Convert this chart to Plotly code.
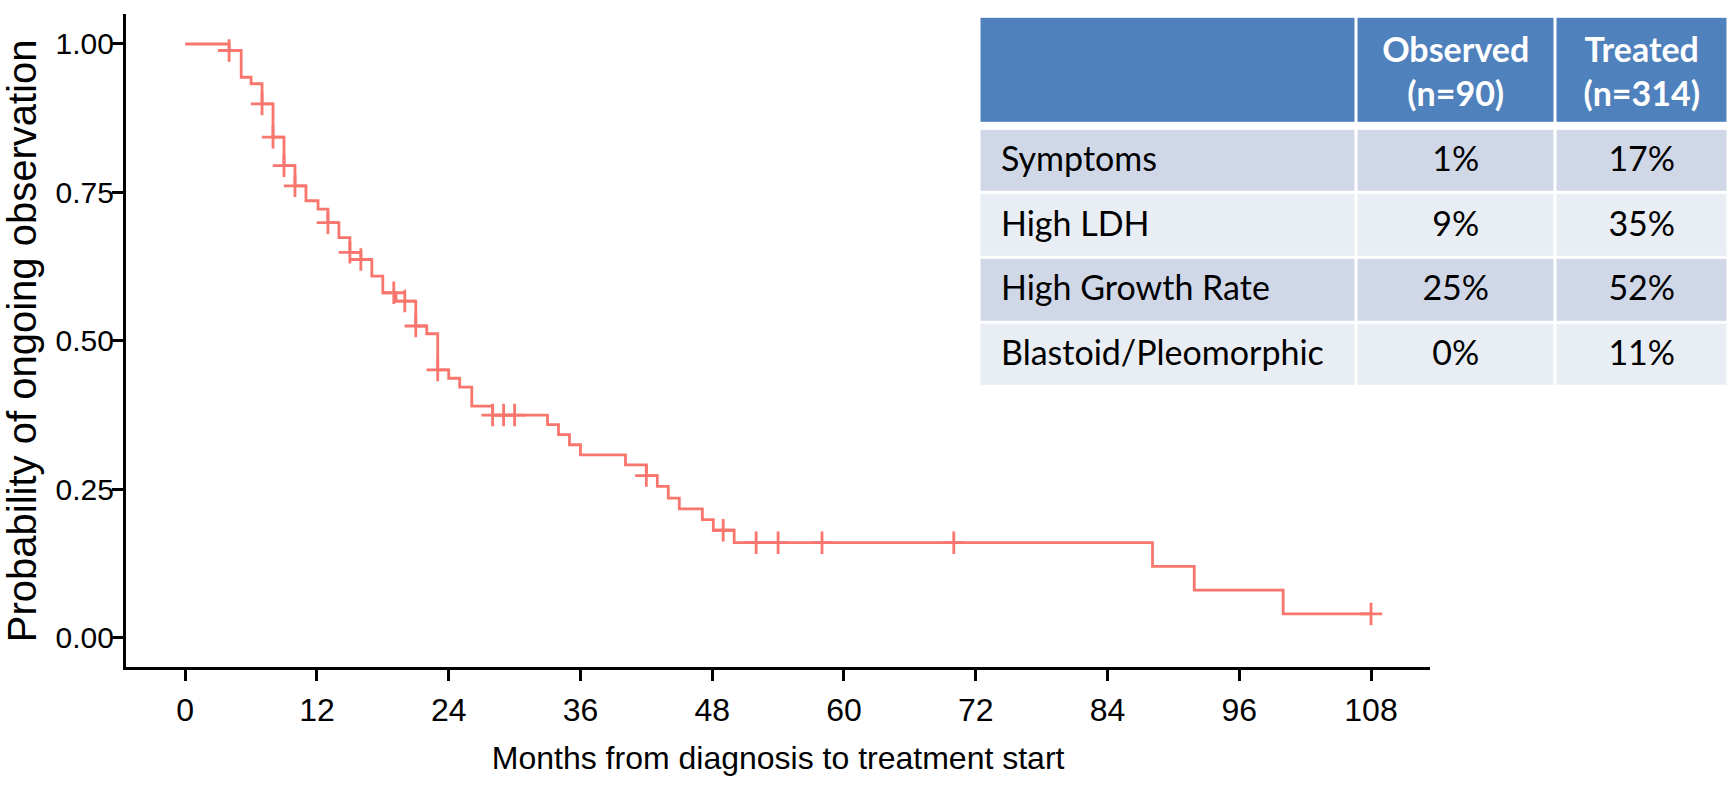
import plotly.graph_objects as go

# ---------------- data ----------------
# Kaplan-Meier step points (months, probability after the step)
step_months = [0, 4.0, 5.1, 6.0, 7.0, 8.0, 9.0, 10.0, 11.0, 12.1, 13.0, 14.0, 15.0, 16.0,
               17.0, 18.0, 19.2, 21.0, 22.0, 23.0, 24.0, 25.0, 26.1, 28.0, 33.0, 34.0,
               35.0, 36.0, 40.1, 42.0, 43.0, 44.0, 45.0, 47.1, 48.1, 50.0, 88.1, 91.9,
               100.0, 108.0]
step_prob = [1.000, 0.989, 0.944, 0.933, 0.899, 0.843, 0.795, 0.761, 0.736, 0.722, 0.699,
             0.674, 0.649, 0.637, 0.609, 0.581, 0.567, 0.525, 0.512, 0.451, 0.437, 0.422,
             0.390, 0.375, 0.359, 0.342, 0.325, 0.308, 0.291, 0.273, 0.255, 0.235, 0.217,
             0.199, 0.181, 0.160, 0.120, 0.080, 0.040, 0.040]

# censored observations
censor_months = [4.0, 7.0, 8.0, 9.0, 10.0, 13.0, 15.0, 16.0, 19.0, 20.0, 21.0, 23.0,
                 28.0, 29.0, 30.0, 42.0, 49.0, 52.0, 54.0, 58.0, 70.0, 108.0]
censor_prob = [0.989, 0.899, 0.843, 0.795, 0.761, 0.699, 0.649, 0.637, 0.581, 0.567,
               0.525, 0.451, 0.375, 0.375, 0.375, 0.273, 0.181, 0.160, 0.160, 0.160,
               0.160, 0.040]

x_ticks = [0, 12, 24, 36, 48, 60, 72, 84, 96, 108]
y_ticks = [0.00, 0.25, 0.50, 0.75, 1.00]
y_tick_labels = ["0.00", "0.25", "0.50", "0.75", "1.00"]

# table
table_header = ["", "Observed<br>(n=90)", "Treated<br>(n=314)"]
row_labels = ["Symptoms", "High LDH", "High Growth Rate", "Blastoid/Pleomorphic"]
observed_pct = ["1%", "9%", "25%", "0%"]
treated_pct = ["17%", "35%", "52%", "11%"]

# ---------------- layout constants ----------------
W, H = 1730, 786
KM_COLOR = "#F8766D"
FONT = "Liberation Sans, Arial, sans-serif"
TFONT = "Lato, Calibri, sans-serif"
TSIZE = 34

# table geometry (in table-axis units = px)
col_edges = [0, 377, 575.5, 749]
header_h, spacer_h, row_h = 107, 4.7, 64.6
row_edges = [0, header_h, header_h + spacer_h]
for i in range(len(row_labels)):
    row_edges.append(row_edges[-1] + row_h)
tbl_left, tbl_top = 979.5, 16.8
tbl_w, tbl_h = col_edges[-1], row_edges[-1]

fig = go.Figure()

# KM curve
fig.add_trace(go.Scatter(
    x=step_months, y=step_prob, mode="lines",
    line=dict(color=KM_COLOR, width=2.8, shape="hv"),
    hoverinfo="skip", showlegend=False))

fig.add_trace(go.Scatter(
    x=censor_months, y=censor_prob, mode="markers",
    marker=dict(symbol="cross-thin", size=16, color=KM_COLOR,
                line=dict(color=KM_COLOR, width=2.8)),
    hoverinfo="skip", showlegend=False))

# table backgrounds as heatmap
z = [[0, 0, 0], [None, None, None]]
for i in range(len(row_labels)):
    z.append([1 if i % 2 == 0 else 2] * 3)
fig.add_trace(go.Heatmap(
    x=col_edges, y=row_edges, z=z, xaxis="x2", yaxis="y2",
    zmin=0, zmax=2, colorscale=[[0, "#4F81BD"], [0.5, "#D0D8E8"], [1, "#E9EDF4"]],
    xgap=3, ygap=3, showscale=False, hoverinfo="skip"))

# table header text
hdr_y = (row_edges[0] + row_edges[1]) / 2 + 5
col_centers = [(col_edges[i] + col_edges[i + 1]) / 2 for i in range(3)]
fig.add_trace(go.Scatter(
    x=col_centers[1:], y=[hdr_y] * 2, xaxis="x2", yaxis="y2", mode="text",
    text=["<b>" + t.replace("<br>", "</b><br><b>") + "</b>" for t in table_header[1:]],
    textposition="middle center",
    textfont=dict(family=TFONT, size=TSIZE, color="white"),
    hoverinfo="skip", showlegend=False))

row_centers = [(row_edges[i + 2] + row_edges[i + 3]) / 2 + 2 for i in range(len(row_labels))]
fig.add_trace(go.Scatter(
    x=[21.5] * len(row_labels), y=row_centers, xaxis="x2", yaxis="y2", mode="text",
    text=row_labels, textposition="middle right",
    textfont=dict(family=TFONT, size=TSIZE, color="black"),
    hoverinfo="skip", showlegend=False))
fig.add_trace(go.Scatter(
    x=[col_centers[1]] * len(row_labels), y=row_centers, xaxis="x2", yaxis="y2",
    mode="text", text=observed_pct, textposition="middle center",
    textfont=dict(family=TFONT, size=TSIZE, color="black"),
    hoverinfo="skip", showlegend=False))
fig.add_trace(go.Scatter(
    x=[col_centers[2]] * len(row_labels), y=row_centers, xaxis="x2", yaxis="y2",
    mode="text", text=treated_pct, textposition="middle center",
    textfont=dict(family=TFONT, size=TSIZE, color="black"),
    hoverinfo="skip", showlegend=False))

# plot area geometry
x_left_px, x_right_px = 125.9, 1430.3
y_top_px, y_bot_px = 14.3, 667.4

fig.update_layout(
    width=W, height=H,
    margin=dict(l=0, r=0, t=0, b=0),
    paper_bgcolor="white", plot_bgcolor="white",
    showlegend=False,
    xaxis=dict(
        domain=[x_left_px / W, x_right_px / W], range=[-5.4, 113.4],
        tickvals=x_ticks, ticktext=[str(v) for v in x_ticks],
        showline=True, linecolor="black", linewidth=3,
        ticks="outside", ticklen=11, tickwidth=2.5, tickcolor="black",
        showgrid=False, zeroline=False,
        tickfont=dict(family=FONT, size=32, color="black"),
        ticklabelstandoff=1,
        title=dict(text="Months from diagnosis to treatment start",
                   font=dict(family=FONT, size=32, color="black"), standoff=20),
        fixedrange=True),
    yaxis=dict(
        domain=[(H - y_bot_px) / H, (H - y_top_px) / H], range=[-0.05, 1.05],
        tickvals=y_ticks, ticktext=y_tick_labels,
        showline=True, linecolor="black", linewidth=3,
        ticks="outside", ticklen=11, tickwidth=2.5, tickcolor="black",
        showgrid=False, zeroline=False,
        tickfont=dict(family=FONT, size=30, color="black"),
        ticklabelstandoff=-8,
        title=dict(text="Probability of ongoing observation",
                   font=dict(family=FONT, size=40, color="black"),
                   standoff=9),
        fixedrange=True),
    xaxis2=dict(domain=[tbl_left / W, (tbl_left + tbl_w) / W], range=[0, tbl_w],
                anchor="y2", visible=False, fixedrange=True),
    yaxis2=dict(domain=[(H - tbl_top - tbl_h) / H, (H - tbl_top) / H], range=[tbl_h, 0],
                anchor="x2", visible=False, fixedrange=True),
)

fig.write_html("out.html")
